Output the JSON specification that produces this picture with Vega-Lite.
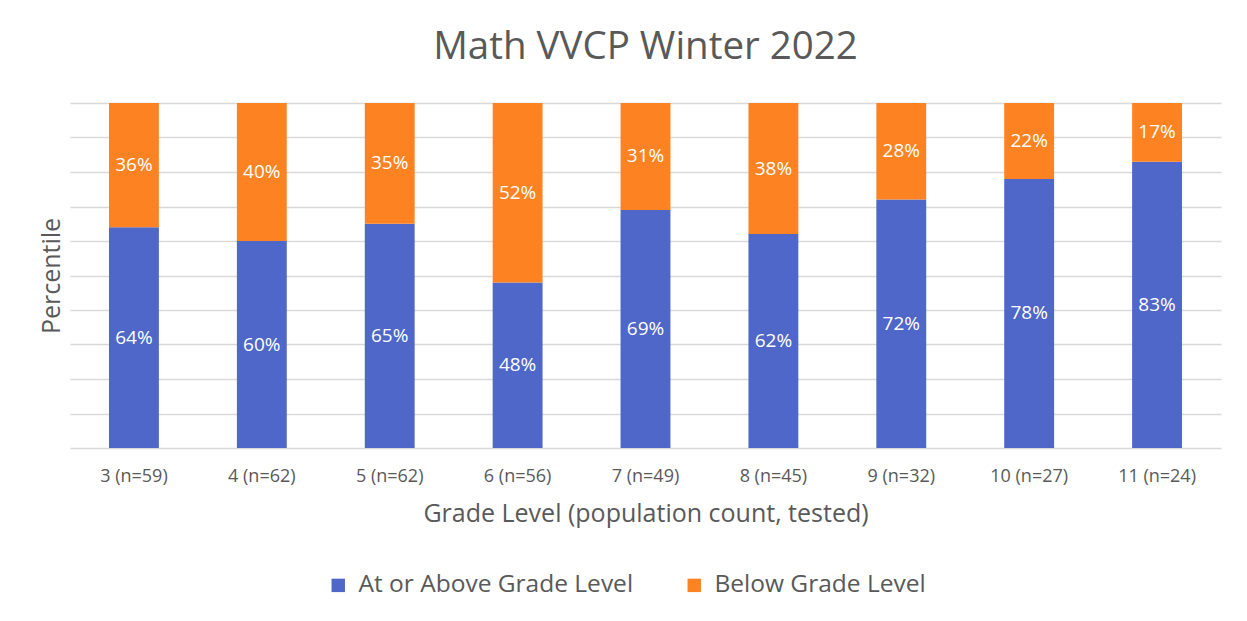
{
  "$schema": "https://vega.github.io/schema/vega-lite/v6.json",
  "width": 1151,
  "height": 345,
  "autosize": {"type": "none"},
  "padding": {"left": 70, "top": 103, "right": 26, "bottom": 173},
  "background": "white",
  "config": {"view": {"stroke": null}},
  "title": {
    "text": "Math VVCP Winter 2022",
    "font": "Open Sans",
    "fontSize": 38.5,
    "fontWeight": "normal",
    "color": "#595959",
    "anchor": "middle",
    "offset": 36
  },
  "data": {
    "values": [
      {"grade": "3 (n=59)", "status": "At or Above Grade Level", "pct": 0.64},
      {"grade": "3 (n=59)", "status": "Below Grade Level", "pct": 0.36},
      {"grade": "4 (n=62)", "status": "At or Above Grade Level", "pct": 0.60},
      {"grade": "4 (n=62)", "status": "Below Grade Level", "pct": 0.40},
      {"grade": "5 (n=62)", "status": "At or Above Grade Level", "pct": 0.65},
      {"grade": "5 (n=62)", "status": "Below Grade Level", "pct": 0.35},
      {"grade": "6 (n=56)", "status": "At or Above Grade Level", "pct": 0.48},
      {"grade": "6 (n=56)", "status": "Below Grade Level", "pct": 0.52},
      {"grade": "7 (n=49)", "status": "At or Above Grade Level", "pct": 0.69},
      {"grade": "7 (n=49)", "status": "Below Grade Level", "pct": 0.31},
      {"grade": "8 (n=45)", "status": "At or Above Grade Level", "pct": 0.62},
      {"grade": "8 (n=45)", "status": "Below Grade Level", "pct": 0.38},
      {"grade": "9 (n=32)", "status": "At or Above Grade Level", "pct": 0.72},
      {"grade": "9 (n=32)", "status": "Below Grade Level", "pct": 0.28},
      {"grade": "10 (n=27)", "status": "At or Above Grade Level", "pct": 0.78},
      {"grade": "10 (n=27)", "status": "Below Grade Level", "pct": 0.22},
      {"grade": "11 (n=24)", "status": "At or Above Grade Level", "pct": 0.83},
      {"grade": "11 (n=24)", "status": "Below Grade Level", "pct": 0.17}
    ]
  },
  "encoding": {
    "x": {
      "field": "grade",
      "type": "nominal",
      "sort": null,
      "scale": {"paddingInner": 0.61, "paddingOuter": 0.305},
      "axis": {
        "title": "Grade Level (population count, tested)",
        "labelAngle": 0,
        "ticks": false,
        "domain": false,
        "labelPadding": 19,
        "titlePadding": 16,
        "labelFont": "Open Sans",
        "labelFontSize": 18,
        "labelColor": "#595959",
        "titleFont": "Open Sans",
        "titleFontSize": 25,
        "titleFontWeight": "normal",
        "titleColor": "#595959"
      }
    }
  },
  "layer": [
    {
      "mark": {"type": "bar"},
      "encoding": {
        "y": {
          "field": "pct",
          "type": "quantitative",
          "stack": "zero",
          "scale": {"domain": [0, 1]},
          "axis": {
            "title": "Percentile",
            "labels": false,
            "ticks": false,
            "domain": false,
            "values": [0, 0.1, 0.2, 0.3, 0.4, 0.5, 0.6, 0.7, 0.8, 0.9, 1],
            "grid": true,
            "gridColor": "#d9d9d9",
            "gridWidth": 1.5,
            "titlePadding": 6,
            "titleFont": "Open Sans",
            "titleFontSize": 25,
            "titleFontWeight": "normal",
            "titleColor": "#595959"
          }
        },
        "color": {
          "field": "status",
          "type": "nominal",
          "scale": {
            "domain": ["At or Above Grade Level", "Below Grade Level"],
            "range": ["#4e67c8", "#fd8322"]
          },
          "legend": {
            "title": null,
            "orient": "none",
            "direction": "horizontal",
            "legendX": 256,
            "legendY": 470,
            "symbolType": "square",
            "symbolSize": 180,
            "symbolStrokeWidth": 0,
            "labelFont": "Open Sans",
            "labelFontSize": 24.5,
            "labelColor": "#595959",
            "labelLimit": 400,
            "columnPadding": 48,
            "labelOffset": 8
          }
        },
        "order": {"field": "status", "sort": "ascending"}
      }
    },
    {
      "transform": [
        {"stack": "pct", "groupby": ["grade"], "sort": [{"field": "status", "order": "ascending"}], "as": ["lo", "hi"]},
        {"fold": ["lo", "hi"], "as": ["edge", "pos"]}
      ],
      "mark": {"type": "text", "font": "Open Sans", "fontSize": 19, "color": "white", "baseline": "middle"},
      "encoding": {
        "y": {
          "aggregate": "mean",
          "field": "pos",
          "type": "quantitative",
          "axis": {
            "title": "Percentile",
            "labels": false,
            "ticks": false,
            "domain": false,
            "values": [0, 0.1, 0.2, 0.3, 0.4, 0.5, 0.6, 0.7, 0.8, 0.9, 1],
            "grid": true,
            "gridColor": "#d9d9d9",
            "gridWidth": 1.5,
            "titlePadding": 6,
            "titleFont": "Open Sans",
            "titleFontSize": 25,
            "titleFontWeight": "normal",
            "titleColor": "#595959"
          }
        },
        "text": {"field": "pct", "type": "quantitative", "format": ".0%"},
        "detail": {"field": "status", "type": "nominal"}
      }
    }
  ]
}
